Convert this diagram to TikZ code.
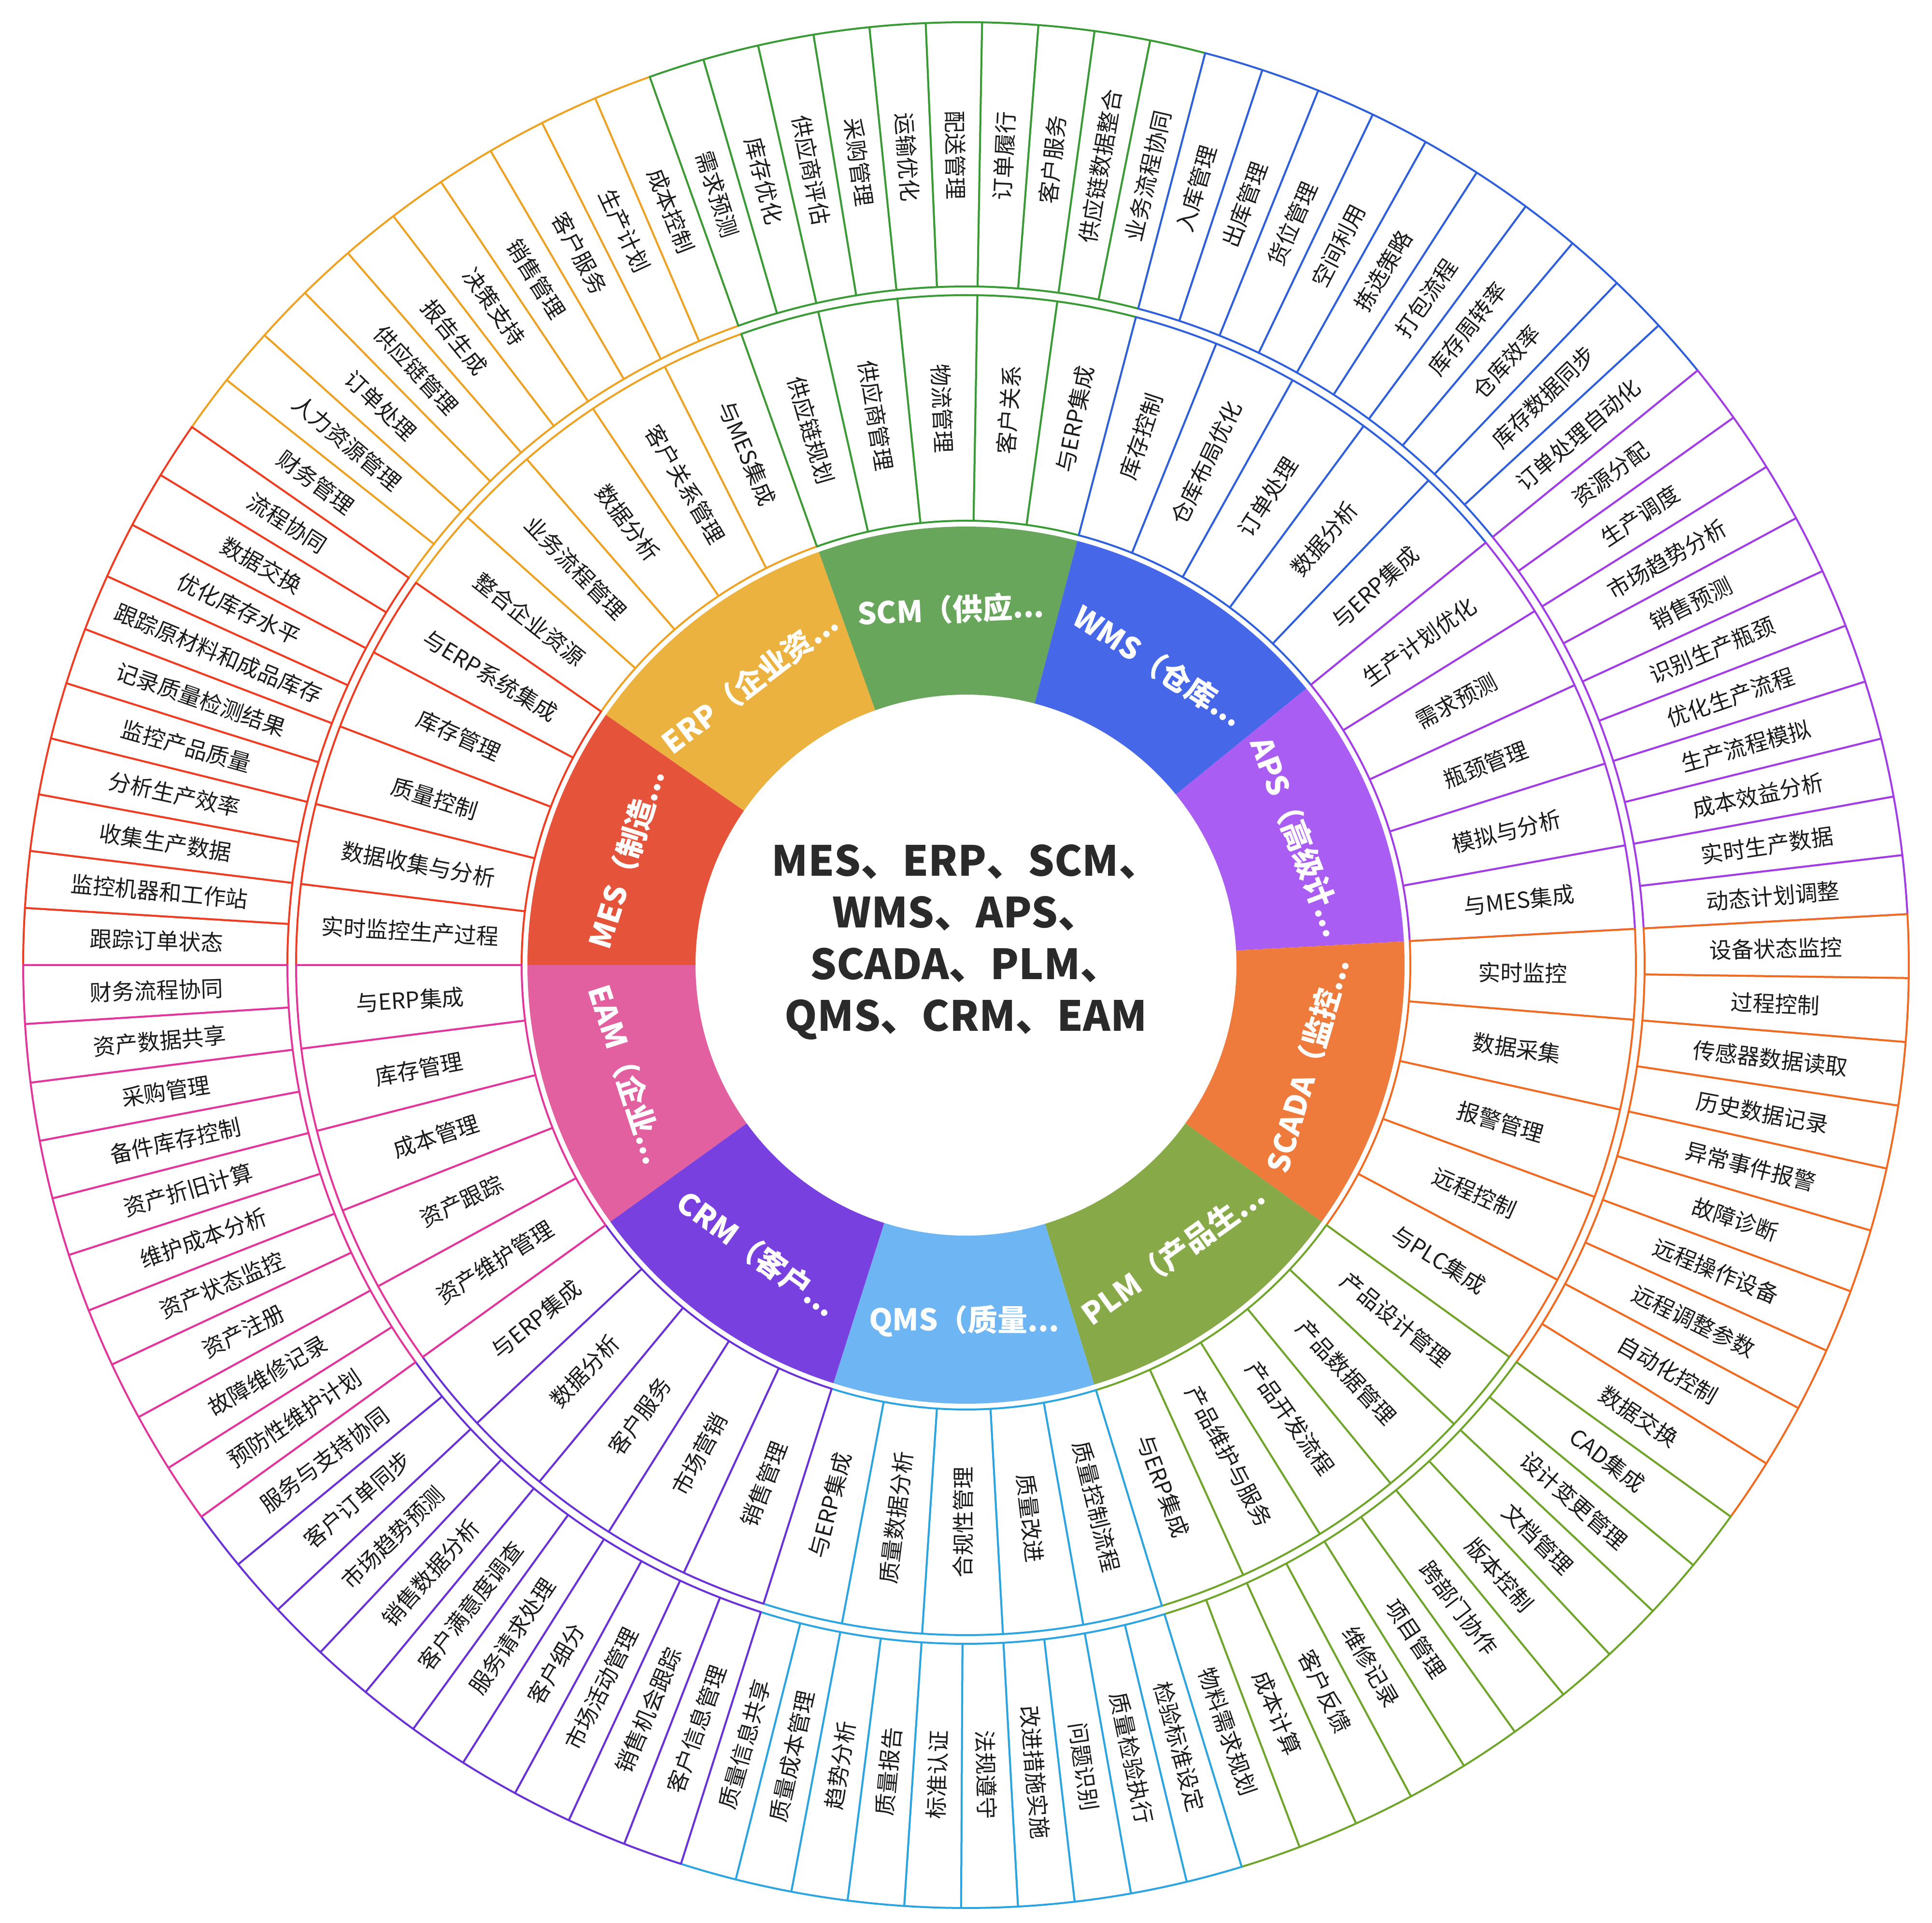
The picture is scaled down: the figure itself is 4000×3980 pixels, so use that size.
\documentclass[tikz,border=0pt]{standalone}
\usepackage{fontspec}
\setmainfont{Noto Sans CJK SC}
\definecolor{txt}{HTML}{1C1C1C}
\definecolor{ttl}{HTML}{2A2A2A}
\definecolor{scmF}{HTML}{67A65B}\definecolor{scmL}{HTML}{3A9A35}
\definecolor{wmsF}{HTML}{4668E8}\definecolor{wmsL}{HTML}{2F5FDB}
\definecolor{apsF}{HTML}{A95DF2}\definecolor{apsL}{HTML}{A23DE6}
\definecolor{scadaF}{HTML}{EE7A3B}\definecolor{scadaL}{HTML}{F06A22}
\definecolor{plmF}{HTML}{87A947}\definecolor{plmL}{HTML}{6FA52A}
\definecolor{qmsF}{HTML}{6DB5F3}\definecolor{qmsL}{HTML}{2BA4E0}
\definecolor{crmF}{HTML}{7840DF}\definecolor{crmL}{HTML}{6A32D6}
\definecolor{eamF}{HTML}{E2609F}\definecolor{eamL}{HTML}{E2369C}
\definecolor{mesF}{HTML}{E5533B}\definecolor{mesL}{HTML}{EE3D22}
\definecolor{erpF}{HTML}{EBB240}\definecolor{erpL}{HTML}{EEA223}
\tikzset{
  ringline/.style={line width=1pt, line join=round, fill=white},
  ringtext/.style={font=\fontsize{11.5}{12}\selectfont, text=txt, inner sep=0pt},
  catlabel/.style={font=\fontsize{15.5}{16}\selectfont\bfseries, text=white, inner sep=0pt},
  titletext/.style={font=\fontsize{21.5}{26.75}\selectfont\bfseries, text=ttl, align=center, inner sep=0pt}
}
% #1 start angle, #2 end angle, #3 colour key, #4 label, #5 middle items, #6 outer items
\newcommand\drawcat[6]{%
  \pgfmathsetmacro\zCa{#1}%
  \pgfmathsetmacro\zCb{#2}%
  \fill[#3F] (\zCa:560) arc[start angle=\zCa, end angle=\zCb, radius=560] -- (\zCb:908) arc[start angle=\zCb, end angle=\zCa, radius=908] -- cycle;
  \pgfmathsetmacro\zCm{(\zCa+\zCb)/2}%
  \pgfmathsetmacro\zTr{ifthenelse(sin(\zCm)>=0,\zCm-90,\zCm+90)}%
  \node[catlabel, rotate=\zTr] (c#3) at (\zCm:737) {#4};
  \pgfmathsetmacro\zMs{(\zCb-\zCa)/5}%
  \foreach \itm [count=\kk from 0] in {#5} {%
    \pgfmathsetmacro\zSa{\zCa+\kk*\zMs}%
    \pgfmathsetmacro\zSb{\zSa+\zMs}%
    \pgfmathsetmacro\zSm{\zSa+\zMs/2}%
    \pgfmathsetmacro\zRr{ifthenelse(cos(\zSm)>=0,\zSm,\zSm+180)}%
    \draw[ringline, draw=#3L] (\zSa:1387) arc[start angle=\zSa, end angle=\zSb, radius=1387] -- (\zSb:920) arc[start angle=\zSb, end angle=\zSa, radius=920] -- cycle;
    \node[ringtext, rotate=\zRr] (m#3\kk) at (\zSm:1153) {\itm};
  }%
  \pgfmathsetmacro\zOs{(\zCb-\zCa)/10}%
  \foreach \itm [count=\kk from 0] in {#6} {%
    \pgfmathsetmacro\zSa{\zCa+\kk*\zOs}%
    \pgfmathsetmacro\zSb{\zSa+\zOs}%
    \pgfmathsetmacro\zSm{\zSa+\zOs/2}%
    \pgfmathsetmacro\zRr{ifthenelse(cos(\zSm)>=0,\zSm,\zSm+180)}%
    \draw[ringline, draw=#3L] (\zSa:1952) arc[start angle=\zSa, end angle=\zSb, radius=1952] -- (\zSb:1405) arc[start angle=\zSb, end angle=\zSa, radius=1405] -- cycle;
    \node[ringtext, rotate=\zRr] (o#3\kk) at (\zSm:1677) {\itm};
  }%
}
\begin{document}
\begin{tikzpicture}[x=0.25pt, y=0.25pt]
\fill[white] (-2000,-1982) rectangle (2000,1998);
\useasboundingbox (-2000,-1982) rectangle (2000,1998);

\drawcat{145.2}{109.6}{erp}{ERP（企业资...}
  {整合企业资源,业务流程管理,数据分析,客户关系管理,与MES集成}
  {财务管理,人力资源管理,订单处理,供应链管理,报告生成,决策支持,销售管理,客户服务,生产计划,成本控制}
\drawcat{109.6}{75.3}{scm}{SCM（供应...}
  {供应链规划,供应商管理,物流管理,客户关系,与ERP集成}
  {需求预测,库存优化,供应商评估,采购管理,运输优化,配送管理,订单履行,客户服务,供应链数据整合,业务流程协同}
\drawcat{75.3}{39.1}{wms}{WMS（仓库...}
  {库存控制,仓库布局优化,订单处理,数据分析,与ERP集成}
  {入库管理,出库管理,货位管理,空间利用,拣选策略,打包流程,库存周转率,仓库效率,库存数据同步,订单处理自动化}
\drawcat{39.1}{3.1}{aps}{APS（高级计...}
  {生产计划优化,需求预测,瓶颈管理,模拟与分析,与MES集成}
  {资源分配,生产调度,市场趋势分析,销售预测,识别生产瓶颈,优化生产流程,生产流程模拟,成本效益分析,实时生产数据,动态计划调整}
\drawcat{3.1}{-35.8}{scada}{SCADA（监控...}
  {实时监控,数据采集,报警管理,远程控制,与PLC集成}
  {设备状态监控,过程控制,传感器数据读取,历史数据记录,异常事件报警,故障诊断,远程操作设备,远程调整参数,自动化控制,数据交换}
\drawcat{-35.8}{-73.0}{plm}{PLM（产品生...}
  {产品设计管理,产品数据管理,产品开发流程,产品维护与服务,与ERP集成}
  {CAD集成,设计变更管理,文档管理,版本控制,跨部门协作,项目管理,维修记录,客户反馈,成本计算,物料需求规划}
\drawcat{-73.0}{-107.6}{qms}{QMS（质量...}
  {质量控制流程,质量改进,合规性管理,质量数据分析,与ERP集成}
  {检验标准设定,质量检验执行,问题识别,改进措施实施,法规遵守,标准认证,质量报告,趋势分析,质量成本管理,质量信息共享}
\drawcat{-107.6}{-144.2}{crm}{CRM（客户...}
  {销售管理,市场营销,客户服务,数据分析,与ERP集成}
  {客户信息管理,销售机会跟踪,市场活动管理,客户细分,服务请求处理,客户满意度调查,销售数据分析,市场趋势预测,客户订单同步,服务与支持协同}
\drawcat{-180}{-214.8}{mes}{MES（制造...}
  {实时监控生产过程,数据收集与分析,质量控制,库存管理,与ERP系统集成}
  {跟踪订单状态,监控机器和工作站,收集生产数据,分析生产效率,监控产品质量,记录质量检测结果,跟踪原材料和成品库存,优化库存水平,数据交换,流程协同}
\drawcat{-144.2}{-180}{eam}{EAM（企业...}
  {资产维护管理,资产跟踪,成本管理,库存管理,与ERP集成}
  {预防性维护计划,故障维修记录,资产注册,资产状态监控,维护成本分析,资产折旧计算,备件库存控制,采购管理,资产数据共享,财务流程协同}

\node[titletext] (title) at (0,48) {MES、ERP、SCM、\\WMS、APS、\\SCADA、PLM、\\QMS、CRM、EAM};
\end{tikzpicture}
\end{document}
